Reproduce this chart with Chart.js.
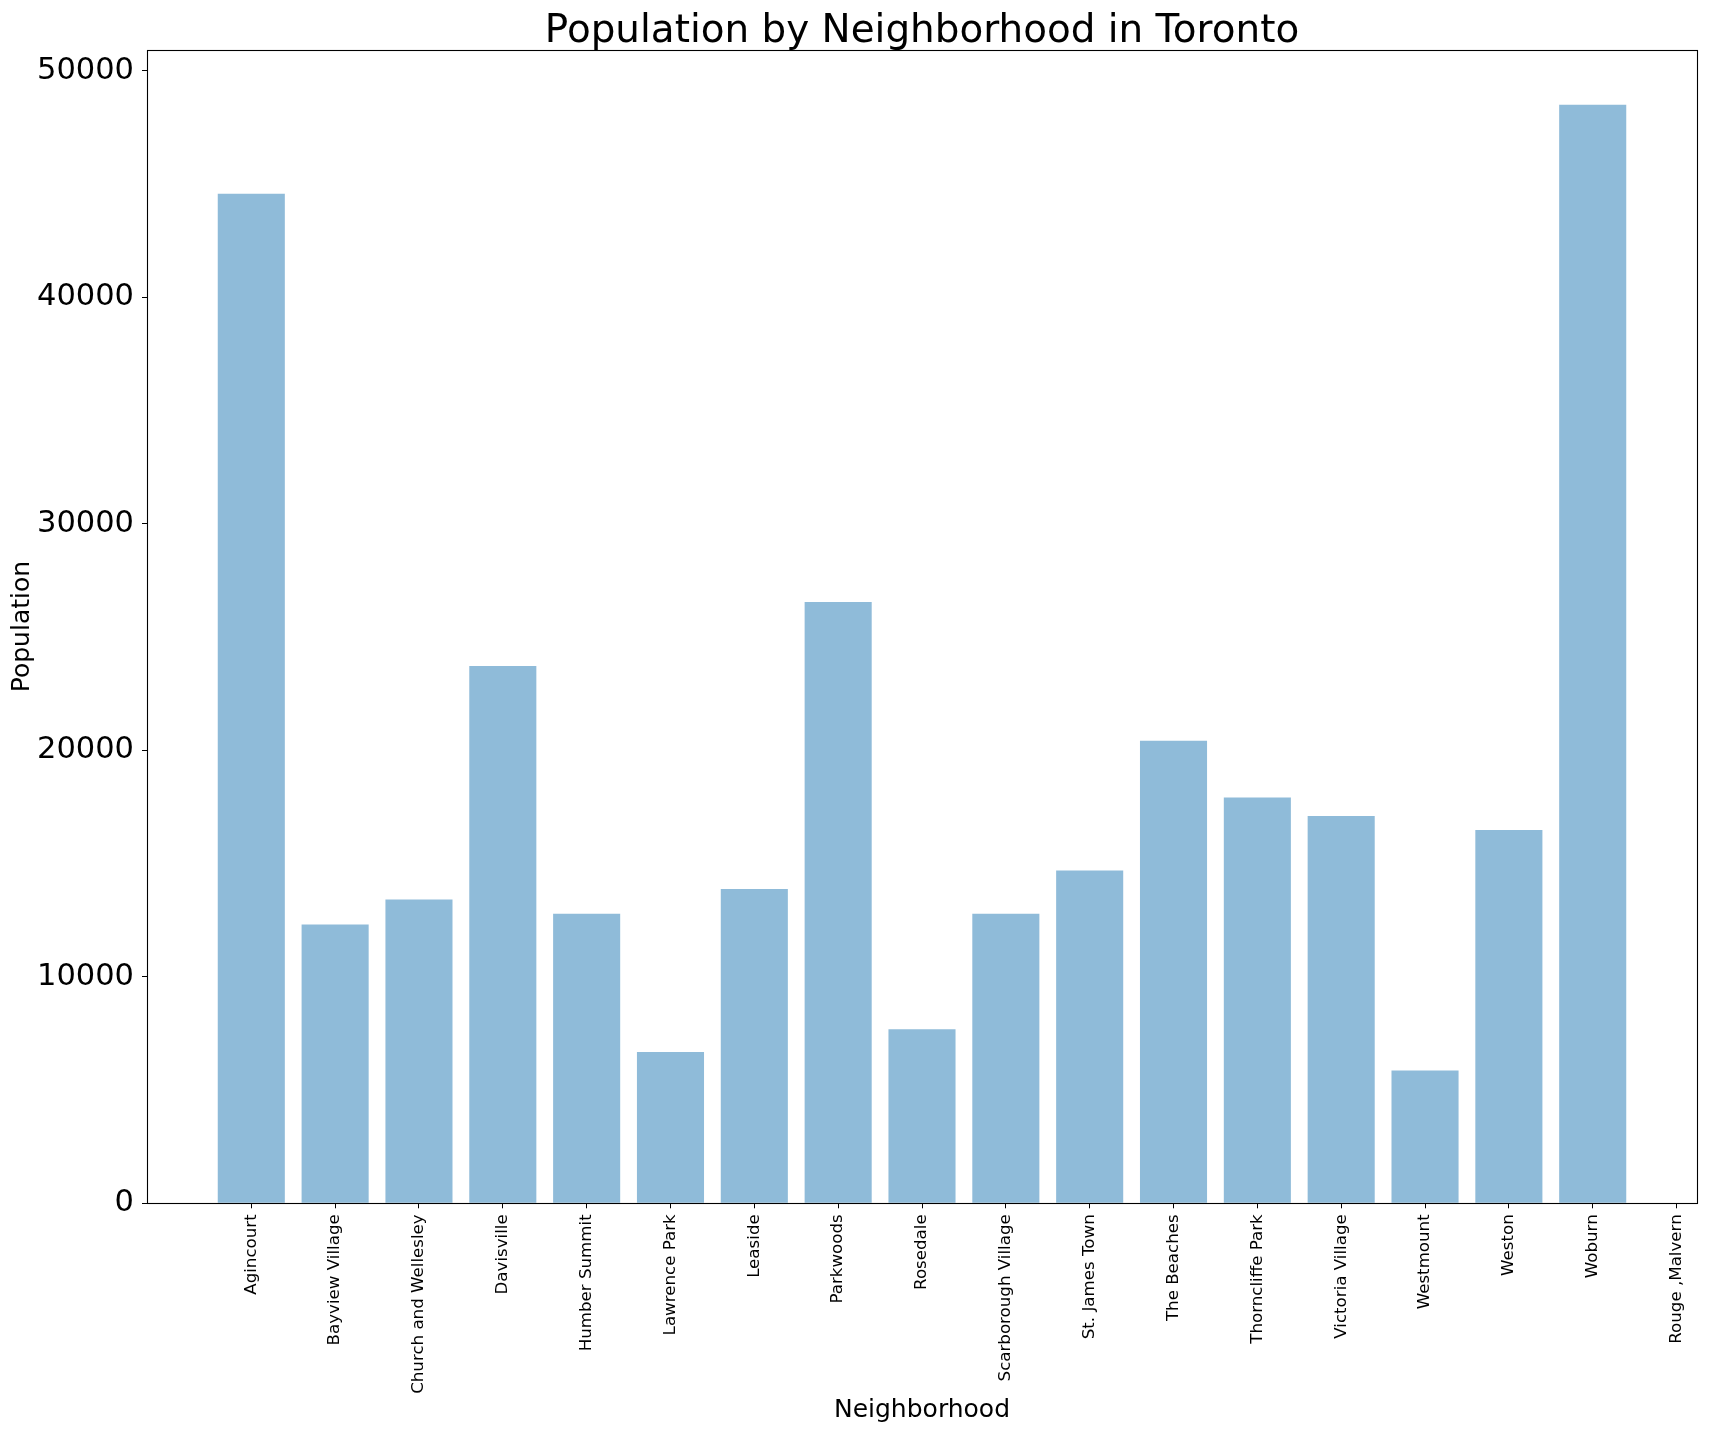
<!DOCTYPE html>
<html>
<head>
<meta charset="utf-8">
<script src="https://cdn.jsdelivr.net/npm/chart.js@4.4.1/dist/chart.umd.min.js"></script>
<style>
  html, body { margin: 0; padding: 0; background: #fff; }
  #wrap { width: 1709px; height: 1433px; }
</style>
</head>
<body>
<div id="wrap"><canvas id="c" width="1709" height="1433"></canvas></div>
<script>
const categories = ['Agincourt', 'Bayview Village', 'Church and Wellesley', 'Davisville', 'Humber Summit',
  'Lawrence Park', 'Leaside', 'Parkwoods', 'Rosedale', 'Scarborough Village', 'St. James Town',
  'The Beaches', 'Thorncliffe Park', 'Victoria Village', 'Westmount', 'Weston', 'Woburn', 'Rouge ,Malvern'];
const population = [44577, 12310, 13410, 23730, 12790, 6680, 13880, 26550, 7690, 12780, 14690,
  20420, 17920, 17100, 5860, 16480, 48507, null];
const yTicks = [0, 10000, 20000, 30000, 40000, 50000];

const points = population.map((v, i) => ({ x: i, y: v }));

Chart.defaults.font.family = "'DejaVu Sans', sans-serif";
Chart.defaults.color = '#000';

const framePlugin = {
  id: 'frame',
  afterDatasetsDraw(chart) {
    const { ctx, chartArea: a } = chart;
    ctx.save();
    ctx.strokeStyle = '#000';
    ctx.lineWidth = 1.1;
    ctx.strokeRect(Math.round(a.left) + 0.5, Math.round(a.top) + 0.5,
      Math.round(a.right) - Math.round(a.left), Math.round(a.bottom) - Math.round(a.top));
    ctx.restore();
  }
};

new Chart(document.getElementById('c'), {
  type: 'bar',
  data: {
    datasets: [{
      data: points,
      backgroundColor: 'rgba(31,119,180,0.5)',
      borderWidth: 0,
      barPercentage: 0.8,
      categoryPercentage: 1.0
    }]
  },
  options: {
    responsive: false,
    animation: false,
    layout: { padding: { left: 0, right: 12, top: 0, bottom: 0 } },
    plugins: {
      legend: { display: false },
      tooltip: { enabled: false },
      title: {
        display: true,
        fullSize: false,
        text: 'Population by Neighborhood in Toronto',
        font: { size: 38.9, weight: 'normal' },
        color: '#000',
        padding: { top: 8.5, bottom: -5.3 }
      }
    },
    scales: {
      x: {
        type: 'linear',
        min: -1.244,
        max: 17.244,
        offset: false,
        afterFit(scale) { scale.height = 229.7; },
        afterBuildTicks(scale) { scale.ticks = categories.map((_, i) => ({ value: i })); },
        grid: { display: true, offset: false, drawOnChartArea: false, drawTicks: true, tickLength: 5, tickColor: '#000', tickWidth: 1 },
        border: { display: false },
        ticks: {
          autoSkip: false,
          minRotation: 90,
          maxRotation: 90,
          padding: 6,
          font: { size: 16.67 },
          color: '#000',
          callback: (v) => categories[v] !== undefined ? categories[v] : ''
        },
        title: {
          display: true,
          text: 'Neighborhood',
          font: { size: 25 },
          color: '#000',
          padding: { top: 0, bottom: 8 }
        }
      },
      y: {
        min: 0,
        max: 50930,
        afterFit(scale) { scale.width = 147; },
        afterBuildTicks(scale) { scale.ticks = yTicks.map(v => ({ value: v })); },
        grid: { display: true, drawOnChartArea: false, drawTicks: true, tickLength: 5, tickColor: '#000', tickWidth: 1 },
        border: { display: false },
        ticks: {
          padding: 8,
          font: { size: 30.5 },
          color: '#000',
          callback: (v) => String(v)
        },
        title: {
          display: true,
          text: 'Population',
          font: { size: 25 },
          color: '#000',
          padding: { top: 7, bottom: 0 }
        }
      }
    }
  },
  plugins: [framePlugin]
});
</script>
</body>
</html>
